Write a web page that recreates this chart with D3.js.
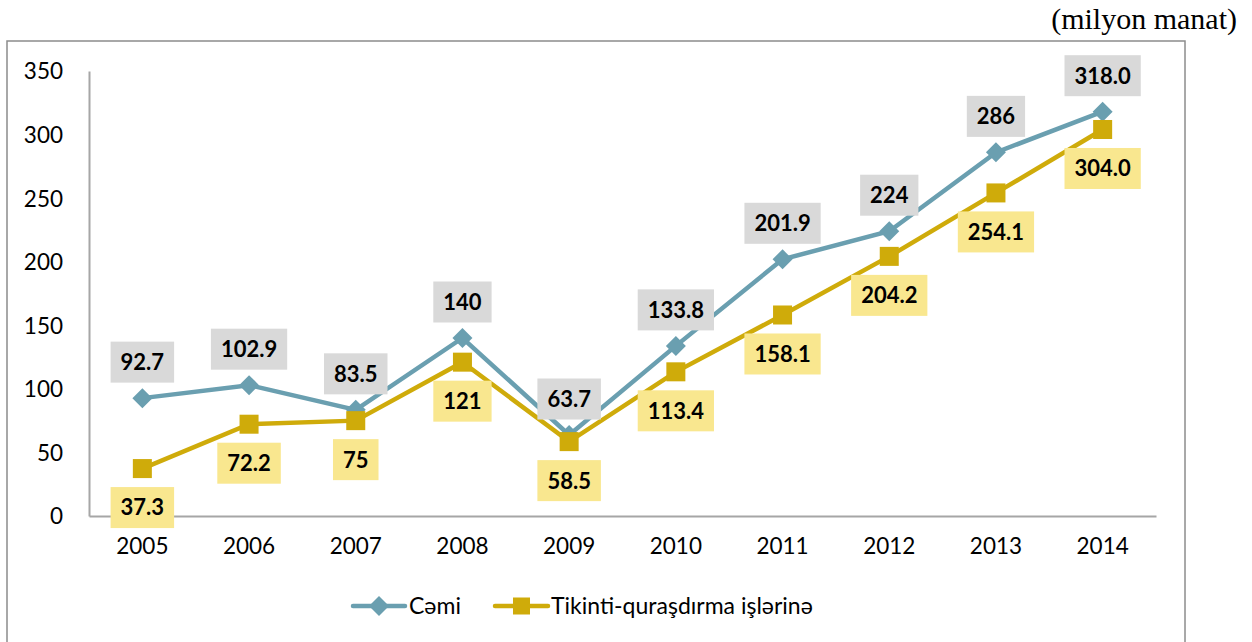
<!DOCTYPE html>
<html><head><meta charset="utf-8">
<script src="https://cdn.jsdelivr.net/npm/d3@7"></script>
<style>body{margin:0;background:#fff;}svg{display:block;}</style>
</head><body>
<svg id="c" width="1252" height="642"></svg>
<script>
const years = ["2005","2006","2007","2008","2009","2010","2011","2012","2013","2014"];
const cemi = [92.7, 102.9, 83.5, 140, 63.7, 133.8, 201.9, 224, 286, 318.0];
const cemiLabels = ["92.7","102.9","83.5","140","63.7","133.8","201.9","224","286","318.0"];
const tikinti = [37.3, 72.2, 75, 121, 58.5, 113.4, 158.1, 204.2, 254.1, 304.0];
const tikintiLabels = ["37.3","72.2","75","121","58.5","113.4","158.1","204.2","254.1","304.0"];
const yTicks = [0, 50, 100, 150, 200, 250, 300, 350];
const seriesNames = ["Cəmi", "Tikinti-quraşdırma işlərinə"];

const svg = d3.select("#c");
const x = d3.scaleBand().domain(years).range([89, 1156]);
const y = d3.scaleLinear().domain([0, 350]).range([516, 71]);
const cx = d => x(d) + x.bandwidth()/2;

// unit label
svg.append("text").attr("x", 1237).attr("y", 29).attr("text-anchor","end")
  .attr("font-family","Liberation Serif").attr("font-size", 30).attr("fill","#000")
  .text("(milyon manat)");

// frame
svg.append("rect").attr("x",7).attr("y",41).attr("width",1178).attr("height",700)
  .attr("fill","none").attr("stroke","#8c8c8c").attr("stroke-width",1.5);

// axes
const yAxis = d3.axisLeft(y).tickValues(yTicks).tickSize(0).tickPadding(26);
const gy = svg.append("g").attr("transform","translate(89,0)").call(yAxis);
const xAxis = d3.axisBottom(x).tickSize(0).tickPadding(22);
const gx = svg.append("g").attr("transform","translate(0,516)").call(xAxis);
[gx, gy].forEach(g => {
  g.select(".domain").attr("stroke","#a6a6a6").attr("stroke-width",2);
  g.selectAll("text").attr("font-family","Lato").attr("font-size",22.5).attr("fill","#000");
});
gy.selectAll("text").attr("dy","0.35em");
gx.selectAll("text").attr("dy","0.71em");

const colC = "#6a9fb0", colT = "#cfab0a";
const line = d3.line().x((d,i)=>cx(years[i])).y(d=>y(d));

svg.append("path").datum(cemi).attr("d", line).attr("fill","none")
  .attr("stroke", colC).attr("stroke-width",4.5);
svg.selectAll(".dm").data(cemi).enter().append("path")
  .attr("transform",(d,i)=>`translate(${cx(years[i])},${y(d)})`)
  .attr("d","M0,-10L10,0L0,10L-10,0Z").attr("fill",colC);

svg.append("path").datum(tikinti).attr("d", line).attr("fill","none")
  .attr("stroke", colT).attr("stroke-width",4.5);
svg.selectAll(".sq").data(tikinti).enter().append("rect")
  .attr("x",(d,i)=>cx(years[i])-9.5).attr("y",d=>y(d)-9.5)
  .attr("width",19).attr("height",19).attr("fill",colT);

function labels(vals, texts, dy, fill) {
  vals.forEach((v,i) => {
    const g = svg.append("g").attr("transform",`translate(${cx(years[i])},${y(v)+dy})`);
    const r = g.append("rect").attr("fill", fill);
    const t = g.append("text").attr("text-anchor","middle").attr("dy","0.36em")
      .attr("font-family","Lato").attr("font-weight","bold").attr("font-size",22)
      .attr("fill","#000").text(texts[i]);
    const w = t.node().getComputedTextLength();
    r.attr("x", -w/2-10).attr("y",-20.5).attr("width", w+20).attr("height",41);
  });
}
labels(cemi, cemiLabels, -36, "#d9d9d9");
labels(tikinti, tikintiLabels, 39, "#f9e78f");

// legend
const lg = svg.append("g");
const leg = [{x1:353,x2:405,tx:409,c:colC,m:"d",name:seriesNames[0]},
             {x1:495,x2:548,tx:551,c:colT,m:"s",name:seriesNames[1]}];
leg.forEach(l => {
  lg.append("line").attr("x1",l.x1).attr("x2",l.x2).attr("y1",606).attr("y2",606)
    .attr("stroke",l.c).attr("stroke-width",4.5).attr("stroke-linecap","round");
  const mx=(l.x1+l.x2)/2;
  if (l.m==="d") lg.append("path").attr("transform",`translate(${mx},606)`)
    .attr("d","M0,-10L10,0L0,10L-10,0Z").attr("fill",l.c);
  else lg.append("rect").attr("x",mx-8.5).attr("y",597.5).attr("width",17).attr("height",17).attr("fill",l.c);
  lg.append("text").attr("x",l.tx).attr("y",606).attr("dy","0.36em")
    .attr("font-family","Lato").attr("font-size",23).attr("fill","#000").text(l.name);
});
</script>
</body></html>
